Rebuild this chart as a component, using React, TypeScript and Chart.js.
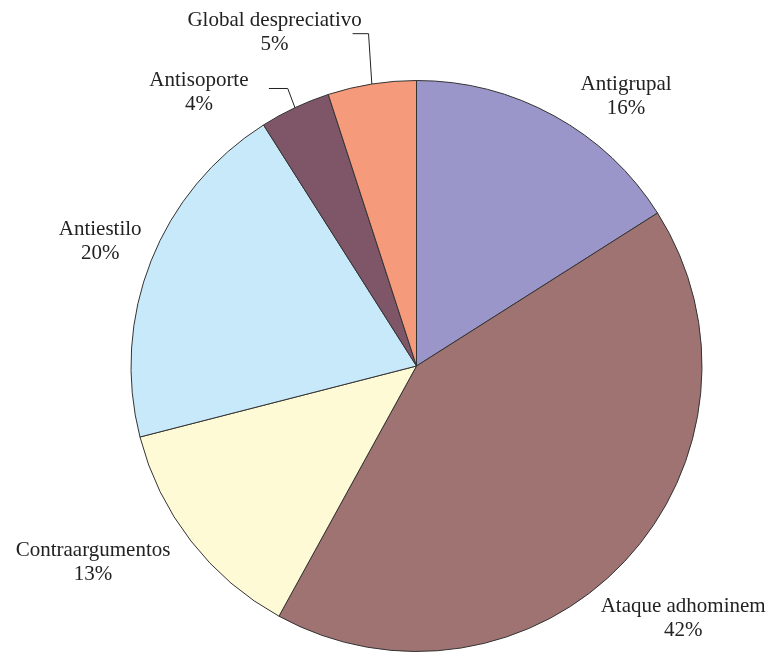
import React, { useEffect, useRef } from "react";
import { Chart, registerables } from "chart.js";

Chart.register(...registerables);

const categories = [
  "Antigrupal",
  "Ataque adhominem",
  "Contraargumentos",
  "Antiestilo",
  "Antisoporte",
  "Global despreciativo",
];
const percentages = [16, 42, 13, 20, 4, 5];
const sliceColors = ["#9b96c9", "#a07373", "#fffad6", "#c8e9f9", "#7e5668", "#f59a7a"];

// label block centre, relative to pie centre in units of radius
const labelOffsets: [number, number][] = [
  [0.734, -0.944],
  [0.934, 0.885],
  [-1.133, 0.689],
  [-1.108, -0.437],
  [-0.762, -0.958],
  [-0.497, -1.168],
];
// leader lines: [startX, elbowX, y] relative to centre in units of radius (null = none)
const leaders: ([number, number, number] | null)[] = [
  null,
  null,
  null,
  null,
  [-0.517, -0.451, -0.972],
  [-0.224, -0.168, -1.164],
];

const FONT = '21px "Liberation Serif", "Times New Roman", serif';

const labelPlugin = {
  id: "pieLabels",
  afterDraw(chart: any) {
    const ctx = chart.ctx;
    const meta = chart.getDatasetMeta(0);
    ctx.save();
    ctx.font = FONT;
    ctx.fillStyle = "#222";
    ctx.textAlign = "center";
    ctx.textBaseline = "middle";
    meta.data.forEach((arc: any, i: number) => {
      const { x, y, outerRadius, startAngle, endAngle } = arc.getProps(
        ["x", "y", "outerRadius", "startAngle", "endAngle"],
        true
      );
      const r = outerRadius;
      const [ox, oy] = labelOffsets[i];
      const lx = x + ox * r;
      const ly = y + oy * r;
      ctx.fillText(categories[i], lx, ly - 12);
      ctx.fillText(percentages[i] + "%", lx, ly + 12);
      const ld = leaders[i];
      if (ld) {
        const mid = (startAngle + endAngle) / 2;
        const rx = x + Math.cos(mid) * r;
        const ry = y + Math.sin(mid) * r;
        ctx.beginPath();
        ctx.strokeStyle = "#222";
        ctx.lineWidth = 1;
        ctx.moveTo(x + ld[0] * r, y + ld[2] * r);
        ctx.lineTo(x + ld[1] * r, y + ld[2] * r);
        ctx.lineTo(rx, ry);
        ctx.stroke();
      }
    });
    ctx.restore();
  },
};

export default function App() {
  const ref = useRef<HTMLCanvasElement | null>(null);
  useEffect(() => {
    if (!ref.current) return;
    const chart = new Chart(ref.current, {
      type: "pie",
      data: {
        labels: categories,
        datasets: [
          {
            data: percentages,
            backgroundColor: sliceColors,
            borderColor: "#333",
            borderWidth: 1,
          },
        ],
      },
      options: {
        animation: false,
        responsive: false,
        maintainAspectRatio: false,
        layout: { padding: { left: 130, right: 66, top: 80, bottom: 0 } },
        plugins: {
          legend: { display: false },
          tooltip: { enabled: false },
        },
      },
      plugins: [labelPlugin],
    });
    return () => chart.destroy();
  }, []);
  return (
    <div style={{ position: "fixed", left: 0, top: 0, width: 769, height: 652, background: "#fff" }}>
      <canvas ref={ref} width={769} height={652} style={{ width: 769, height: 652 }} />
    </div>
  );
}
